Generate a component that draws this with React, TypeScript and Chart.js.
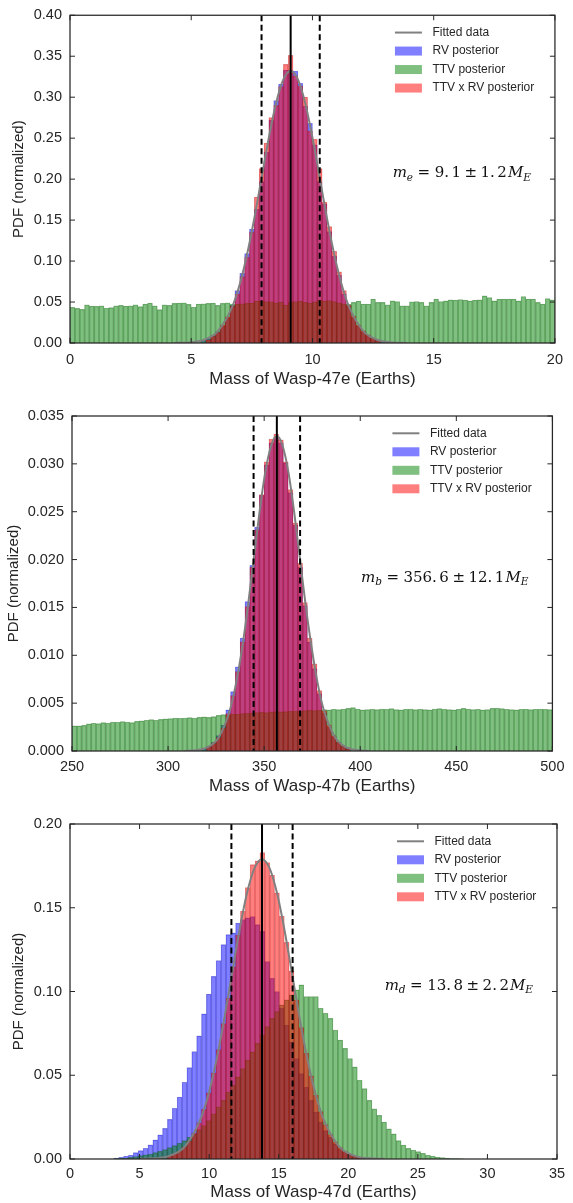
import React, { useEffect, useRef } from 'react';
import { Chart, registerables } from 'chart.js';

Chart.register(...registerables);

// ---------------- data: Wasp-47e ----------------
const binWidthE = 0.2;
const xRangeE = [0, 20, 5];
const yRangeE = [0, 0.4, 0.05];
const massE = [9.1, 1.2];
const ttvE = [
  0.0435, 0.0423, 0.0411, 0.0467, 0.0451, 0.0447, 0.0455, 0.0427, 0.0431, 0.0455,
  0.0459, 0.0451, 0.0455, 0.0467, 0.0443, 0.0475, 0.0487, 0.0455, 0.0407, 0.0467,
  0.0459, 0.0483, 0.0487, 0.0491, 0.0471, 0.0439, 0.0475, 0.0479, 0.0483, 0.0487,
  0.0459, 0.0483, 0.0491, 0.0471, 0.0475, 0.0479, 0.0483, 0.0487, 0.0511, 0.0515,
  0.0507, 0.0503, 0.0491, 0.0499, 0.0463, 0.0495, 0.0507, 0.0511, 0.0495, 0.0487,
  0.0503, 0.0523, 0.0511, 0.0519, 0.0507, 0.0487, 0.0479, 0.0471, 0.0495, 0.0511,
  0.0475, 0.0475, 0.0535, 0.0495, 0.0495, 0.0467, 0.0515, 0.0507, 0.0455, 0.0455,
  0.0503, 0.0507, 0.0495, 0.0455, 0.0495, 0.0535, 0.0507, 0.0515, 0.0527, 0.0523,
  0.0531, 0.0523, 0.0515, 0.0523, 0.0527, 0.0575, 0.0555, 0.0515, 0.0535, 0.0535,
  0.0535, 0.0535, 0.0515, 0.0567, 0.0535, 0.0535, 0.0495, 0.0475, 0.0543, 0.0527,
];
const rvStartE = 27;
const rvE = [
  0.003, 0.005, 0.009, 0.014, 0.021, 0.031, 0.046, 0.064, 0.085, 0.109,
  0.139, 0.163, 0.197, 0.233, 0.272, 0.296, 0.316, 0.333, 0.333, 0.332,
  0.317, 0.289, 0.268, 0.242, 0.197, 0.170, 0.136, 0.106, 0.083, 0.060,
  0.045, 0.031, 0.021, 0.014, 0.009, 0.006, 0.003, 0.002,
];
const jointStartE = 28;
const jointE = [
  0.004, 0.008, 0.013, 0.022, 0.032, 0.045, 0.060, 0.081, 0.105, 0.135,
  0.178, 0.213, 0.244, 0.275, 0.290, 0.313, 0.340, 0.351, 0.326, 0.314,
  0.300, 0.259, 0.249, 0.213, 0.172, 0.142, 0.112, 0.087, 0.064, 0.046,
  0.033, 0.022, 0.015, 0.010, 0.006, 0.003,
];
const fitXE = [4.3, 4.9, 5.5, 6.1, 6.7, 7.0, 7.3, 7.6, 7.9, 8.2, 8.5, 8.8, 9.1, 9.4, 9.7, 10.0, 10.3, 10.6, 10.9, 11.2, 11.5, 12.1, 12.7, 13.3, 13.9];
const fitYE = [0.0001, 0.0007, 0.0037, 0.0146, 0.0449, 0.0718, 0.1078, 0.152, 0.2014, 0.2506, 0.293, 0.3218, 0.332, 0.3218, 0.293, 0.2506, 0.2014, 0.152, 0.1078, 0.0718, 0.0449, 0.0146, 0.0037, 0.0007, 0.0001];

// ---------------- data: Wasp-47b ----------------
const binWidthB = 2.5;
const xRangeB = [250, 500, 50];
const yRangeB = [0, 0.035, 0.005];
const massB = [356.6, 12.1];
const ttvB = [
  0.00262, 0.00262, 0.00268, 0.00283, 0.0029, 0.00286, 0.00297, 0.00293, 0.00303, 0.003,
  0.00307, 0.00303, 0.00297, 0.0031, 0.00314, 0.00321, 0.00328, 0.00321, 0.00331, 0.00335,
  0.00338, 0.00345, 0.00342, 0.00345, 0.00349, 0.00345, 0.00352, 0.00356, 0.00352, 0.00359,
  0.00373, 0.0038, 0.00376, 0.00383, 0.00387, 0.0039, 0.00394, 0.00397, 0.00401, 0.00404,
  0.00401, 0.00408, 0.00411, 0.00408, 0.00411, 0.00415, 0.00418, 0.00415, 0.00422, 0.00425,
  0.00422, 0.00425, 0.00432, 0.00429, 0.00436, 0.00432, 0.00439, 0.00446, 0.00453, 0.00439,
  0.00429, 0.00432, 0.00436, 0.00432, 0.00439, 0.00436, 0.00443, 0.00432, 0.00429, 0.00436,
  0.00439, 0.00432, 0.00436, 0.00432, 0.00429, 0.00439, 0.00443, 0.00436, 0.00432, 0.00429,
  0.00436, 0.00446, 0.00439, 0.00432, 0.00436, 0.00429, 0.00432, 0.00446, 0.00449, 0.00443,
  0.00436, 0.00432, 0.00429, 0.00436, 0.00439, 0.00432, 0.00436, 0.00439, 0.00436, 0.00432,
];
const rvStartB = 27;
const rvB = [
  0.0003, 0.0005, 0.0009, 0.0016, 0.0027, 0.0043, 0.0062, 0.0088, 0.0118, 0.0156,
  0.0194, 0.0234, 0.0267, 0.0299, 0.0322, 0.0328, 0.0322, 0.0301, 0.027, 0.0236,
  0.0192, 0.0152, 0.0114, 0.0086, 0.006, 0.004, 0.0025, 0.0015, 0.0009, 0.0005, 0.0003,
];
const jointStartB = 28;
const jointB = [
  0.0004, 0.0008, 0.0014, 0.0024, 0.0039, 0.0058, 0.0083, 0.0114, 0.0151, 0.0192,
  0.0231, 0.0268, 0.0302, 0.0326, 0.0331, 0.0325, 0.0302, 0.0273, 0.0238, 0.0196,
  0.0155, 0.0118, 0.0091, 0.0063, 0.0042, 0.0027, 0.0016, 0.0009, 0.0005, 0.0002,
];
const fitXB = [308.2, 314.3, 320.3, 326.4, 332.4, 335.4, 338.5, 341.5, 344.5, 347.5, 350.5, 353.6, 356.6, 359.6, 362.7, 365.7, 368.7, 371.7, 374.8, 377.8, 380.8, 386.9, 392.9, 399.0, 405.0];
const fitYB = [0.00001, 0.00007, 0.00037, 0.00144, 0.00445, 0.00712, 0.01068, 0.01506, 0.01995, 0.02483, 0.02903, 0.03189, 0.0329, 0.03189, 0.02903, 0.02483, 0.01995, 0.01506, 0.01068, 0.00712, 0.00445, 0.00144, 0.00037, 0.00007, 0.00001];

// ---------------- data: Wasp-47d ----------------
const binWidthD = 0.35;
const xRangeD = [0, 35, 5];
const yRangeD = [0, 0.2, 0.05];
const massD = [13.8, 2.2];
const ttvStartD = 9;
const ttvD = [
  0.0002, 0.0004, 0.0006, 0.001, 0.0015, 0.002, 0.0025, 0.003, 0.0038, 0.0046,
  0.0056, 0.0068, 0.008, 0.0094, 0.011, 0.013, 0.015, 0.0175, 0.02, 0.023,
  0.027, 0.031, 0.035, 0.04, 0.044, 0.049, 0.054, 0.059, 0.064, 0.069,
  0.074, 0.079, 0.084, 0.088, 0.092, 0.095, 0.098, 0.101, 0.104, 0.097,
  0.097, 0.097, 0.09, 0.087, 0.084, 0.077, 0.071, 0.066, 0.06, 0.055,
  0.047, 0.042, 0.035, 0.03, 0.026, 0.022, 0.018, 0.015, 0.011, 0.0083,
  0.0063, 0.0054, 0.0044, 0.0034, 0.0024, 0.0018, 0.0012, 0.0008, 0.0005, 0.0003,
  0.0002, 0.0001,
];
const rvStartD = 9;
const rvD = [
  0.0005, 0.001, 0.0018, 0.0024, 0.0038, 0.005, 0.0064, 0.0084, 0.0114, 0.0144,
  0.0183, 0.0237, 0.0303, 0.0369, 0.0458, 0.0546, 0.0642, 0.0735, 0.0866, 0.0984,
  0.109, 0.1185, 0.128, 0.134, 0.135, 0.1408, 0.143, 0.144, 0.1448, 0.1399,
  0.1359, 0.1179, 0.1079, 0.1, 0.09, 0.08, 0.07, 0.06, 0.051, 0.043,
  0.035, 0.028, 0.022, 0.017, 0.013, 0.009, 0.006, 0.004, 0.0025, 0.0015,
  0.001, 0.0005,
];
const jointStartD = 20;
const jointD = [
  0.0019, 0.0031, 0.0048, 0.0072, 0.0107, 0.0154, 0.0216, 0.0296, 0.0395, 0.0514,
  0.0653, 0.0808, 0.096, 0.1147, 0.1335, 0.148, 0.162, 0.1757, 0.178, 0.183,
  0.177, 0.1695, 0.1589, 0.1451, 0.1293, 0.1123, 0.0951, 0.0785, 0.0632, 0.0496,
  0.038, 0.0283, 0.0206, 0.0146, 0.0101, 0.0068, 0.0045, 0.0029, 0.0018, 0.001,
];
const fitXD = [5.0, 6.1, 7.2, 8.3, 9.4, 9.95, 10.5, 11.05, 11.6, 12.15, 12.7, 13.25, 13.8, 14.35, 14.9, 15.45, 16.0, 16.55, 17.1, 17.65, 18.2, 19.3, 20.4, 21.5, 22.6];
const fitYD = [0.0001, 0.0004, 0.002, 0.0079, 0.0242, 0.0387, 0.0581, 0.0819, 0.1086, 0.1351, 0.158, 0.1735, 0.179, 0.1735, 0.158, 0.1351, 0.1086, 0.0819, 0.0581, 0.0387, 0.0242, 0.0079, 0.002, 0.0004, 0.0001];

const legendLabels = ['Fitted data', 'RV posterior', 'TTV posterior', 'TTV x RV posterior'];

// ---------------- layout / style ----------------
const SANS = '"Liberation Sans", Arial, sans-serif';
const SERIF = '"DejaVu Serif", serif';
const INK = '#262626';

const panels = [
  {
    id: 'e', sub: 'e', title: 'Mass of Wasp-47e (Earths)',
    bw: binWidthE, xr: xRangeE, yr: yRangeE, yDec: 2, mass: massE,
    ttv: ttvE, ttvStart: 0, rv: rvE, rvStart: rvStartE, joint: jointE, jointStart: jointStartE,
    fitX: fitXE, fitY: fitYE,
    top: 0, h: 400, area: { l: 70, r: 557, t: 9, b: 343 },
    xTickPad: 10, xTitlePad: 10.8, yTitlePad: 10,
  },
  {
    id: 'b', sub: 'b', title: 'Mass of Wasp-47b (Earths)',
    bw: binWidthB, xr: xRangeB, yr: yRangeB, yDec: 3, mass: massB,
    ttv: ttvB, ttvStart: 0, rv: rvB, rvStart: rvStartB, joint: jointB, jointStart: jointStartB,
    fitX: fitXB, fitY: fitYB,
    top: 400, h: 400, area: { l: 72, r: 558, t: 16, b: 351 },
    xTickPad: 8.5, xTitlePad: 3.8, yTitlePad: 4.5,
  },
  {
    id: 'd', sub: 'd', title: 'Mass of Wasp-47d (Earths)',
    bw: binWidthD, xr: xRangeD, yr: yRangeD, yDec: 2, mass: massD,
    ttv: ttvD, ttvStart: ttvStartD, rv: rvD, rvStart: rvStartD, joint: jointD, jointStart: jointStartD,
    fitX: fitXD, fitY: fitYD,
    top: 800, h: 403, area: { l: 70, r: 557, t: 24, b: 359 },
    xTickPad: 7.5, xTitlePad: 0, yTitlePad: 10,
  },
];

const bins = (start: number, vals: number[], lo: number, w: number) =>
  vals.map((y, i) => ({ x: lo + (start + i + 0.5) * w, y }));

function mathPieces(sym: string, val: number, err: number) {
  const [a, b] = val.toFixed(1).split('.');
  const [c, d] = err.toFixed(1).split('.');
  return [
    { t: 'm', it: true },
    { t: sym, it: true, sub: true },
    { t: '=', gap: 4.5 },
    { t: a + '.', gap: 4.5 },
    { t: b, gap: 2.5 },
    { t: '\u00b1', gap: 3.5 },
    { t: c + '.', gap: 3.5 },
    { t: d, gap: 2.5 },
    { t: 'M', it: true, gap: 1 },
    { t: 'E', it: true, sub: true },
  ];
}

function decorPlugin(p: any) {
  return {
    id: 'decor_' + p.id,
    afterDatasetsDraw(chart: any) {
      const { ctx, chartArea: a, scales } = chart;
      const xs = scales.x;
      const ys = scales.y;
      ctx.save();
      // inward ticks on all four sides
      ctx.strokeStyle = INK;
      ctx.lineWidth = 1;
      ctx.beginPath();
      xs.ticks.forEach((t: any) => {
        const px = xs.getPixelForValue(t.value);
        ctx.moveTo(px, a.bottom);
        ctx.lineTo(px, a.bottom - 5);
        ctx.moveTo(px, a.top);
        ctx.lineTo(px, a.top + 5);
      });
      ys.ticks.forEach((t: any) => {
        const py = ys.getPixelForValue(t.value);
        ctx.moveTo(a.left, py);
        ctx.lineTo(a.left + 5, py);
        ctx.moveTo(a.right, py);
        ctx.lineTo(a.right - 5, py);
      });
      ctx.stroke();
      // spines
      ctx.lineWidth = 1.25;
      ctx.strokeRect(a.left, a.top, a.right - a.left, a.bottom - a.top);

      // legend
      const items = chart.data.datasets.filter((d: any) => d.label);
      ctx.font = '12px ' + SANS;
      ctx.textBaseline = 'middle';
      ctx.textAlign = 'left';
      items.forEach((d: any, i: number) => {
        const y = a.top + 17.3 + 18.5 * i;
        const x0 = a.right - 160;
        if (d.type === 'line') {
          ctx.strokeStyle = d.borderColor;
          ctx.lineWidth = 2;
          ctx.beginPath();
          ctx.moveTo(x0, y);
          ctx.lineTo(x0 + 27, y);
          ctx.stroke();
        } else {
          ctx.fillStyle = d.backgroundColor;
          ctx.fillRect(x0, y - 4.5, 27, 9);
        }
        ctx.fillStyle = INK;
        ctx.fillText(d.label, a.right - 122.5, y);
      });

      // math annotation
      const size = 15;
      const subSize = 10.5;
      const pieces = mathPieces(p.sub, p.mass[0], p.mass[1]);
      let total = 0;
      const laid = pieces.map((pc: any) => {
        const fs = pc.sub ? subSize : size;
        ctx.font = (pc.it ? 'italic ' : '') + fs + 'px ' + SERIF;
        const w = ctx.measureText(pc.t).width;
        const x = total + (pc.gap || 0);
        total = x + w;
        return { ...pc, fs, x };
      });
      const right = a.right - 24;
      const base = a.top + 0.495 * (a.bottom - a.top);
      ctx.fillStyle = '#111';
      ctx.textBaseline = 'alphabetic';
      laid.forEach((pc: any) => {
        ctx.font = (pc.it ? 'italic ' : '') + pc.fs + 'px ' + SERIF;
        ctx.fillText(pc.t, right - total + pc.x, base + (pc.sub ? 3.5 : 0));
      });
      ctx.restore();
    },
  };
}

function buildConfig(p: any): any {
  const lo = p.xr[0];
  const barCommon = { type: 'bar', grouped: false, barPercentage: 1, categoryPercentage: 1, borderWidth: 0.5, borderSkipped: 'start' };
  const ymax = p.yr[1];
  const vline = (x: number, dash: number[]) => ({
    type: 'line',
    data: [{ x, y: ymax }, { x, y: 0 }],
    borderColor: '#000',
    borderWidth: 2,
    borderDash: dash,
    pointRadius: 0,
    fill: false,
    order: 0,
  });
  return {
    type: 'bar',
    data: {
      datasets: [
        {
          type: 'line', label: legendLabels[0],
          data: p.fitX.map((x: number, i: number) => ({ x, y: p.fitY[i] })),
          borderColor: '#808080', borderWidth: 2, pointRadius: 0, fill: false,
          cubicInterpolationMode: 'monotone', order: 1,
        },
        {
          ...barCommon, label: legendLabels[1], data: bins(p.rvStart, p.rv, lo, p.bw),
          backgroundColor: 'rgba(0,0,255,0.5)', borderColor: 'rgba(0,0,150,0.35)', order: 4,
        },
        {
          ...barCommon, label: legendLabels[2], data: bins(p.ttvStart, p.ttv, lo, p.bw),
          backgroundColor: 'rgba(0,128,0,0.5)', borderColor: 'rgba(0,80,0,0.38)', order: 3,
        },
        {
          ...barCommon, label: legendLabels[3], data: bins(p.jointStart, p.joint, lo, p.bw),
          backgroundColor: 'rgba(255,0,0,0.5)', borderColor: 'rgba(150,0,0,0.35)', order: 2,
        },
        vline(p.mass[0], []),
        vline(p.mass[0] - p.mass[1], [6, 3.5]),
        vline(p.mass[0] + p.mass[1], [6, 3.5]),
      ],
    },
    options: {
      responsive: false,
      maintainAspectRatio: false,
      animation: false,
      events: [],
      layout: { padding: { left: 0, top: p.area.t, right: 573 - p.area.r, bottom: 0 } },
      plugins: { legend: { display: false }, tooltip: { enabled: false }, title: { display: false } },
      scales: {
        x: {
          type: 'linear',
          position: 'bottom',
          min: p.xr[0],
          max: p.xr[1],
          offset: false,
          grid: { display: false, drawTicks: false },
          border: { display: false },
          ticks: {
            stepSize: p.xr[2], autoSkip: false, maxRotation: 0, padding: p.xTickPad,
            color: INK, font: { family: SANS, size: 14.5, lineHeight: 1 },
            callback: (v: any) => String(Math.round(Number(v))),
          },
          title: {
            display: true, text: p.title, color: INK,
            font: { family: SANS, size: 17, lineHeight: 1.2 },
            padding: { top: 0, bottom: p.xTitlePad },
          },
          afterFit: (s: any) => { s.height = p.h - p.area.b; },
        },
        y: {
          type: 'linear',
          position: 'left',
          min: p.yr[0],
          max: p.yr[1],
          grid: { display: false, drawTicks: false },
          border: { display: false },
          ticks: {
            stepSize: p.yr[2], autoSkip: false, padding: 8,
            color: INK, font: { family: SANS, size: 14.5, lineHeight: 1 },
            callback: (v: any) => Number(v).toFixed(p.yDec),
          },
          title: {
            display: true, text: 'PDF (normalized)', color: INK,
            font: { family: SANS, size: 15, lineHeight: 1.2 },
            padding: { top: p.yTitlePad, bottom: 0 },
          },
          afterFit: (s: any) => { s.width = p.area.l; },
        },
      },
    },
    plugins: [decorPlugin(p)],
  };
}

function Panel({ p }: { p: any }) {
  const ref = useRef<HTMLCanvasElement | null>(null);
  useEffect(() => {
    if (!ref.current) return;
    const chart = new Chart(ref.current, buildConfig(p));
    return () => chart.destroy();
  }, [p]);
  return (
    <canvas
      ref={ref}
      width={573}
      height={p.h}
      style={{ position: 'absolute', left: 0, top: p.top, width: 573, height: p.h, display: 'block' }}
    />
  );
}

export default function App() {
  return (
    <div style={{ position: 'absolute', left: 0, top: 0, width: 573, height: 1203, background: '#ffffff', overflow: 'hidden' }}>
      {panels.map((p) => (
        <Panel key={p.id} p={p} />
      ))}
    </div>
  );
}
